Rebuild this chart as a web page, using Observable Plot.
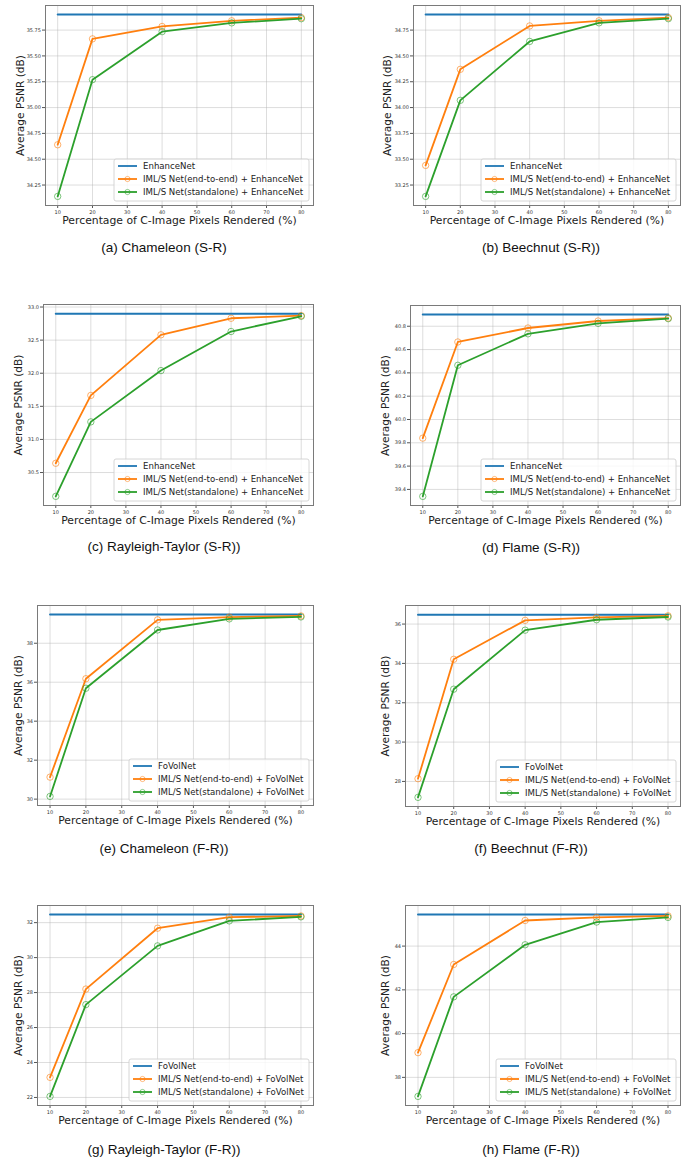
<!DOCTYPE html>
<html>
<head>
<meta charset="utf-8">
<script src="https://cdn.jsdelivr.net/npm/d3@7"></script>
<script src="https://cdn.jsdelivr.net/npm/@observablehq/plot@0.6"></script>
<style>
  html, body { margin: 0; padding: 0; background: white; }
  #page { position: relative; width: 689px; height: 1161px; background: white; overflow: hidden; }
  .panel { position: absolute; }
  .caption { position: absolute; width: 260px; text-align: center; font-family: "Liberation Sans", Arial, sans-serif; font-size: 13.5px; color: #111; white-space: nowrap; line-height: 16px; }
</style>
</head>
<body>
<div id="page"></div>
<script>
// ---------- data ----------
const percentages = [10, 20, 40, 60, 80];
const xTicks = [10, 20, 30, 40, 50, 60, 70, 80];

const chameleonSR_base = 35.90;
const chameleonSR_e2e = [34.64, 35.665, 35.785, 35.84, 35.87];
const chameleonSR_sa  = [34.14, 35.27, 35.735, 35.82, 35.86];

const beechnutSR_base = 34.90;
const beechnutSR_e2e = [33.44, 34.37, 34.79, 34.84, 34.87];
const beechnutSR_sa  = [33.14, 34.07, 34.64, 34.82, 34.86];

const rtSR_base = 32.90;
const rtSR_e2e = [30.64, 31.665, 32.58, 32.83, 32.87];
const rtSR_sa  = [30.14, 31.265, 32.04, 32.63, 32.86];

const flameSR_base = 40.90;
const flameSR_e2e = [39.84, 40.665, 40.785, 40.845, 40.87];
const flameSR_sa  = [39.34, 40.465, 40.735, 40.825, 40.865];

const chameleonFR_base = 39.47;
const chameleonFR_e2e = [31.13, 36.18, 39.20, 39.34, 39.40];
const chameleonFR_sa  = [30.14, 35.69, 38.68, 39.25, 39.35];

const beechnutFR_base = 36.48;
const beechnutFR_e2e = [28.14, 34.21, 36.19, 36.34, 36.42];
const beechnutFR_sa  = [27.19, 32.69, 35.69, 36.22, 36.36];

const rtFR_base = 32.46;
const rtFR_e2e = [23.15, 28.20, 31.68, 32.31, 32.38];
const rtFR_sa  = [22.06, 27.31, 30.67, 32.10, 32.33];

const flameFR_base = 45.44;
const flameFR_e2e = [39.13, 43.16, 45.17, 45.31, 45.38];
const flameFR_sa  = [37.13, 41.68, 44.06, 45.10, 45.31];

const ticksChameleonSR = [34.25, 34.5, 34.75, 35.0, 35.25, 35.5, 35.75];
const ticksBeechnutSR  = [33.25, 33.5, 33.75, 34.0, 34.25, 34.5, 34.75];
const ticksRtSR        = [30.5, 31.0, 31.5, 32.0, 32.5, 33.0];
const ticksFlameSR     = [39.4, 39.6, 39.8, 40.0, 40.2, 40.4, 40.6, 40.8];
const ticksChameleonFR = [30, 32, 34, 36, 38];
const ticksBeechnutFR  = [28, 30, 32, 34, 36];
const ticksRtFR        = [22, 24, 26, 28, 30, 32];
const ticksFlameFR     = [38, 40, 42, 44];

const legendSR = ["EnhanceNet", "IML/S Net(end-to-end) + EnhanceNet", "IML/S Net(standalone) + EnhanceNet"];
const legendFR = ["FoVolNet", "IML/S Net(end-to-end) + FoVolNet", "IML/S Net(standalone) + FoVolNet"];

const xLabel = "Percentage of C-Image Pixels Rendered (%)";
const yLabel = "Average PSNR (dB)";

const colors = ["#1f77b4", "#ff7f0e", "#2ca02c"];

// ---------- layout ----------
const panels = [
  {cap: "(a) Chameleon (S-R)", base: chameleonSR_base, e2e: chameleonSR_e2e, sa: chameleonSR_sa, ticks: ticksChameleonSR, fmt: ".2f", legend: legendSR, lw: 195,
   left: 0, top: 0, w: 345, ml: 45, mr: 32, fh: 200, ydx: -25, capX: 164, capY: 248},
  {cap: "(b) Beechnut (S-R))", base: beechnutSR_base, e2e: beechnutSR_e2e, sa: beechnutSR_sa, ticks: ticksBeechnutSR, fmt: ".2f", legend: legendSR, lw: 195,
   left: 345, top: 0, w: 344, ml: 68, mr: 9, fh: 200, ydx: -26, capX: 541, capY: 248},
  {cap: "(c) Rayleigh-Taylor (S-R))", base: rtSR_base, e2e: rtSR_e2e, sa: rtSR_sa, ticks: ticksRtSR, fmt: ".1f", legend: legendSR, lw: 195,
   left: 0, top: 299, w: 345, ml: 43, mr: 32, fh: 201, ydx: -25, capX: 164, capY: 547},
  {cap: "(d) Flame (S-R))", base: flameSR_base, e2e: flameSR_e2e, sa: flameSR_sa, ticks: ticksFlameSR, fmt: ".1f", legend: legendSR, lw: 195,
   left: 345, top: 300, w: 344, ml: 65, mr: 9, fh: 200, ydx: -25, capX: 531, capY: 548},
  {cap: "(e) Chameleon (F-R))", base: chameleonFR_base, e2e: chameleonFR_e2e, sa: chameleonFR_sa, ticks: ticksChameleonFR, fmt: "d", legend: legendFR, lw: 180,
   left: 0, top: 600, w: 345, ml: 37, mr: 32, fh: 200, ydx: -19, capX: 164, capY: 849},
  {cap: "(f) Beechnut (F-R))", base: beechnutFR_base, e2e: beechnutFR_e2e, sa: beechnutFR_sa, ticks: ticksBeechnutFR, fmt: "d", legend: legendFR, lw: 180,
   left: 345, top: 600, w: 344, ml: 60, mr: 9, fh: 201, ydx: -20, capX: 531, capY: 849},
  {cap: "(g) Rayleigh-Taylor (F-R))", base: rtFR_base, e2e: rtFR_e2e, sa: rtFR_sa, ticks: ticksRtFR, fmt: "d", legend: legendFR, lw: 180,
   left: 0, top: 900, w: 345, ml: 37, mr: 32, fh: 200, ydx: -19, capX: 164, capY: 1150},
  {cap: "(h) Flame (F-R))", base: flameFR_base, e2e: flameFR_e2e, sa: flameFR_sa, ticks: ticksFlameFR, fmt: "d", legend: legendFR, lw: 180,
   left: 345, top: 900, w: 344, ml: 60, mr: 9, fh: 200, ydx: -20, capX: 531, capY: 1150}
];

function legendMark(labels, lw) {
  return (index, scales, values, dims) => {
    const {width, height, marginRight, marginBottom} = dims;
    const lh = 42;
    const x0 = width - marginRight - 4 - lw;
    const y0 = height - marginBottom - 4 - lh;
    const g = d3.create("svg:g")
      .attr("font-family", "DejaVu Sans, sans-serif")
      .attr("font-size", 8.6)
      .attr("text-anchor", "start");
    g.append("rect").attr("x", x0).attr("y", y0).attr("width", lw).attr("height", lh)
      .attr("rx", 2).attr("fill", "white").attr("fill-opacity", 0.8)
      .attr("stroke", "#cccccc").attr("stroke-width", 0.8);
    labels.forEach((lab, i) => {
      const cy = y0 + 7 + i * 13;
      g.append("line").attr("x1", x0 + 4).attr("x2", x0 + 23).attr("y1", cy).attr("y2", cy)
        .attr("stroke", colors[i]).attr("stroke-width", 1.8);
      if (i > 0) g.append("circle").attr("cx", x0 + 13.5).attr("cy", cy).attr("r", 2.6)
        .attr("fill", "none").attr("stroke", colors[i]).attr("stroke-opacity", 0.6).attr("stroke-width", 0.9);
      g.append("text").attr("x", x0 + 29).attr("y", cy).attr("dy", "0.35em")
        .attr("text-anchor", "start").attr("fill", "#222").text(lab);
    });
    return g.node();
  };
}

const page = document.getElementById("page");

panels.forEach(p => {
  const base = percentages.map(x => ({x, y: p.base}));
  const e2e = percentages.map((x, i) => ({x, y: p.e2e[i]}));
  const sa = percentages.map((x, i) => ({x, y: p.sa[i]}));
  const all = [p.base, ...p.e2e, ...p.sa];
  const lo = d3.min(all), hi = d3.max(all), pad = (hi - lo) * 0.05;
  const mt = 5, mb = 27;
  const chart = Plot.plot({
    width: p.w,
    height: p.fh + mt + mb,
    marginLeft: p.ml, marginRight: p.mr, marginTop: mt, marginBottom: mb,
    style: {fontFamily: "DejaVu Sans, sans-serif", background: "white", overflow: "visible"},
    x: {domain: [6.5, 83.5]},
    y: {domain: [lo - pad, hi + pad]},
    marks: [
      Plot.gridX(xTicks, {stroke: "#b0b0b0", strokeOpacity: 0.55, strokeWidth: 0.8}),
      Plot.gridY(p.ticks, {stroke: "#b0b0b0", strokeOpacity: 0.55, strokeWidth: 0.8}),
      Plot.axisX(xTicks, {tickSize: 3, tickPadding: 1.5, fontSize: 5, label: null, stroke: "#555", fill: "#333"}),
      Plot.axisY(p.ticks, {tickSize: 3, tickPadding: 1.5, fontSize: 5, label: null, tickFormat: d3.format(p.fmt), stroke: "#555", fill: "#333"}),
      Plot.frame({stroke: "#7a7a7a", strokeWidth: 1}),
      Plot.lineY(base, {x: "x", y: "y", stroke: colors[0], strokeWidth: 2}),
      Plot.lineY(e2e, {x: "x", y: "y", stroke: colors[1], strokeWidth: 1.8}),
      Plot.dot(e2e, {x: "x", y: "y", r: 3.2, stroke: colors[1], strokeOpacity: 0.6, strokeWidth: 1, fill: "none"}),
      Plot.lineY(sa, {x: "x", y: "y", stroke: colors[2], strokeWidth: 1.8}),
      Plot.dot(sa, {x: "x", y: "y", r: 3.2, stroke: colors[2], strokeOpacity: 0.6, strokeWidth: 1, fill: "none"}),
      legendMark(p.legend, p.lw),
      Plot.text([yLabel], {text: d => d, frameAnchor: "left", textAnchor: "middle", lineAnchor: "middle", rotate: -90, dx: p.ydx, fontSize: 10.6, fill: "#222"}),
      Plot.text([xLabel], {text: d => d, frameAnchor: "bottom", textAnchor: "middle", lineAnchor: "middle", dy: 15, fontSize: 10.8, fill: "#222"})
    ]
  });
  const div = document.createElement("div");
  div.className = "panel";
  div.style.left = p.left + "px";
  div.style.top = p.top + "px";
  div.appendChild(chart);
  page.appendChild(div);

  const cap = document.createElement("div");
  cap.className = "caption";
  cap.style.left = (p.capX - 130) + "px";
  cap.style.top = (p.capY - 8) + "px";
  cap.textContent = p.cap;
  page.appendChild(cap);
});
</script>
</body>
</html>
